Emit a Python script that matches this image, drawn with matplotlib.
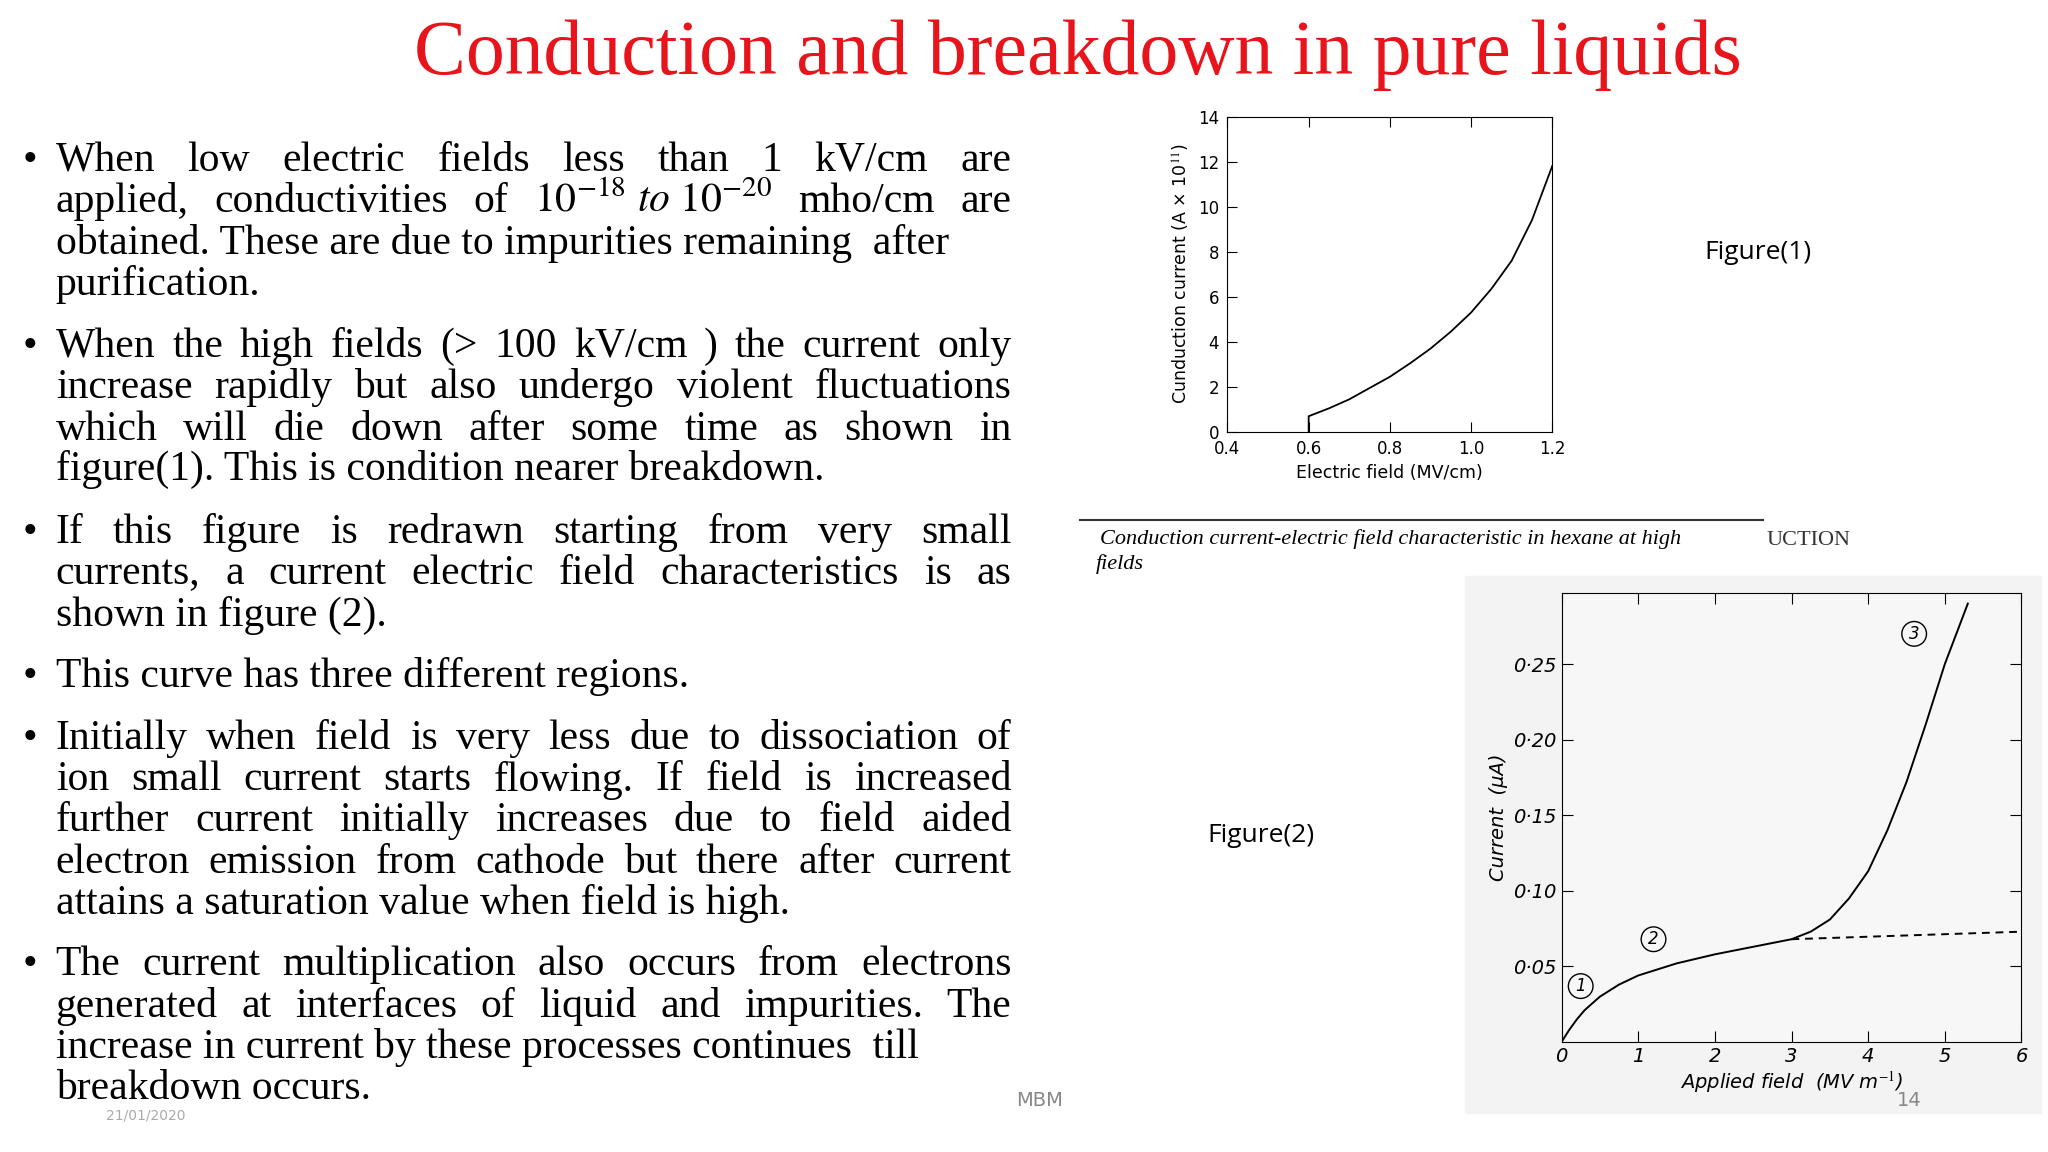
import numpy as np
import matplotlib.pyplot as plt
import matplotlib.patches as mpatches

W, H = 1545.0, 880.0


def P(x, y):
    return x / W, 1 - y / H


# ---- data ----
fig1_x = [0.6, 0.6, 0.65, 0.7, 0.75, 0.8, 0.85, 0.9, 0.95, 1.0, 1.05, 1.1, 1.15, 1.2]
fig1_y = [0.0, 0.7, 1.05, 1.45, 1.95, 2.45, 3.05, 3.7, 4.45, 5.3, 6.35, 7.6, 9.4, 11.8]
fig1_xticks = [0.4, 0.6, 0.8, 1.0, 1.2]
fig1_yticks = [0, 2, 4, 6, 8, 10, 12, 14]

fig2_x = [0.0, 0.1, 0.2, 0.3, 0.5, 0.75, 1.0, 1.5, 2.0, 2.5, 3.0, 3.25, 3.5, 3.75, 4.0,
          4.25, 4.5, 4.75, 5.0, 5.15, 5.3]
fig2_y = [0.0, 0.008, 0.015, 0.021, 0.030, 0.038, 0.044, 0.052, 0.058, 0.063, 0.068, 0.073,
          0.081, 0.095, 0.113, 0.140, 0.172, 0.210, 0.250, 0.270, 0.290]
fig2_dash_x = [3.0, 6.0]
fig2_dash_y = [0.068, 0.073]
fig2_yticks = [0.05, 0.10, 0.15, 0.20, 0.25]
fig2_ylabels = ['0·05', '0·10', '0·15', '0·20', '0·25']
fig2_xticks = [0, 1, 2, 3, 4, 5, 6]

# (text, y, justified)
paragraphs = [
    [("When low electric fields less than 1 kV/cm are", 123, True),
     ("applied, conductivities of $10^{-18}\\ \\mathit{to}\\ 10^{-20}$ mho/cm are", 154, True),
     ("obtained. These are due to impurities remaining  after", 186, False),
     ("purification.", 217, False)],
    [(" When the high fields (> 100 kV/cm ) the current only", 265, True),
     ("increase rapidly but also undergo violent fluctuations", 296, True),
     ("which will die down after some time as shown in", 328, True),
     ("figure(1). This is condition nearer breakdown.", 359, False)],
    [("If this figure is redrawn starting from very small", 407, True),
     ("currents, a current electric field characteristics is as", 438, True),
     ("shown in figure (2).", 470, False)],
    [("This curve has three different regions.", 517, False)],
    [("Initially when field is very less due to dissociation of", 564, True),
     ("ion small current starts flowing. If field is increased", 596, True),
     ("further current initially increases due to field aided", 627, True),
     ("electron emission from cathode but there after current", 659, True),
     ("attains a saturation value when field is high.", 690, False)],
    [(" The current multiplication also occurs from electrons", 737, True),
     ("generated at interfaces of liquid and impurities. The", 769, True),
     ("increase in current by these processes continues  till", 800, False),
     ("breakdown occurs.", 832, False)],
]

plt.rcParams['mathtext.fontset'] = 'stix'
fig = plt.figure(figsize=(20.48, 11.52), dpi=100)
fig.patch.set_facecolor('white')
r = fig.canvas.get_renderer()

serif = 'Liberation Serif'
fs = 30
fig.text(*P(813, 42), "Conduction and breakdown in pure liquids", color='#e8141b',
         family=serif, fontsize=56, ha='center', va='center')

x0, x1 = 42 / W, 763 / W
for para in paragraphs:
    fig.text(*P(17, para[0][1]), "•", family=serif, fontsize=fs, va='center')
    for line, y, just in para:
        if not just:
            fig.text(x0, P(0, y)[1], line, family=serif, fontsize=fs, va='center')
            continue
        words = [w.replace('~', '\\ ') for w in line.replace('\\ ', '~').split()]
        arts = [fig.text(0, P(0, y)[1], w, family=serif, fontsize=fs, va='center') for w in words]
        widths = [a.get_window_extent(r).width / fig.bbox.width for a in arts]
        gap = (x1 - x0 - sum(widths)) / max(len(words) - 1, 1)
        xx = x0
        for a, wd in zip(arts, widths):
            a.set_x(xx)
            xx += wd + gap

fig.text(*P(110, 852), "21/01/2020", color='#aaaaaa', fontsize=10, ha='center', va='center')
fig.text(*P(784, 841), "MBM", color='#888888', fontsize=14, ha='center', va='center')
fig.text(*P(1440, 841), "14", color='#888888', fontsize=14, ha='center', va='center')

# ---- figure 1 ----
l, t = P(926, 89)
rr, b = P(1171, 330)
ax1 = fig.add_axes([l, b, rr - l, t - b])
ax1.plot(fig1_x, fig1_y, color='black', lw=1.3)
ax1.set_xlim(0.4, 1.2)
ax1.set_ylim(0, 14)
ax1.set_xticks(fig1_xticks)
ax1.set_xticklabels(['0.4', '0.6', '0.8', '1.0', '1.2'])
ax1.set_yticks(fig1_yticks)
ax1.tick_params(direction='in', top=True, labelsize=12, length=7, pad=6)
ax1.set_xlabel("Electric field (MV/cm)", fontsize=12.5)
ax1.set_ylabel("Cunduction current (A × 10$^{11}$)", fontsize=12.5)
fig.text(*P(1326, 193), "Figure(1)", family='Open Sans', fontsize=19, ha='center', va='center')

fig.add_artist(plt.Line2D([815 / W, 1330 / W], [1 - 397 / H] * 2, color='#333333', lw=1.5))
fig.text(*P(830, 412), "Conduction current-electric field characteristic in hexane at high",
         family=serif, style='italic', fontsize=16, va='center')
fig.text(*P(827, 431), "fields", family=serif, style='italic', fontsize=16, va='center')
fig.text(*P(1333, 413), "UCTION", family=serif, fontsize=16, va='center', color='#333333')

# ---- figure 2 ----
fig.add_artist(mpatches.Rectangle(P(1105, 850), (1540 - 1105) / W, (850 - 440) / H,
                                  transform=fig.transFigure, color='#f3f3f3', zorder=-5))
l, t = P(1178, 453)
rr, b = P(1525, 796)
ax2 = fig.add_axes([l, b, rr - l, t - b])
ax2.set_facecolor('#f7f7f7')
ax2.plot(fig2_x, fig2_y, color='black', lw=1.4)
ax2.plot(fig2_dash_x, fig2_dash_y, color='black', lw=1.4, ls=(0, (4, 3)))
ax2.set_xlim(0, 6)
ax2.set_ylim(0, 0.297)
ax2.set_yticks(fig2_yticks)
ax2.set_yticklabels(fig2_ylabels)
ax2.set_xticks(fig2_xticks)
ax2.tick_params(direction='in', top=True, right=True, labelsize=14, length=8)
for lab in ax2.get_xticklabels() + ax2.get_yticklabels():
    lab.set_style('italic')
ax2.set_xlabel("Applied field  (MV m$^{-1}$)", fontsize=14, style='italic', labelpad=2)
ax2.set_ylabel("Current  (μA)", fontsize=14, style='italic')
for txt, cx, cy in [("1", 0.25, 0.037), ("2", 1.2, 0.068), ("3", 4.6, 0.27)]:
    ax2.text(cx, cy, txt, fontsize=12, style='italic', ha='center', va='center',
             bbox=dict(boxstyle='circle,pad=0.2', fc='none', ec='black', lw=1))
fig.text(*P(951, 638), "Figure(2)", family='Open Sans', fontsize=19, ha='center', va='center')

fig.savefig('out.png', dpi=100)
